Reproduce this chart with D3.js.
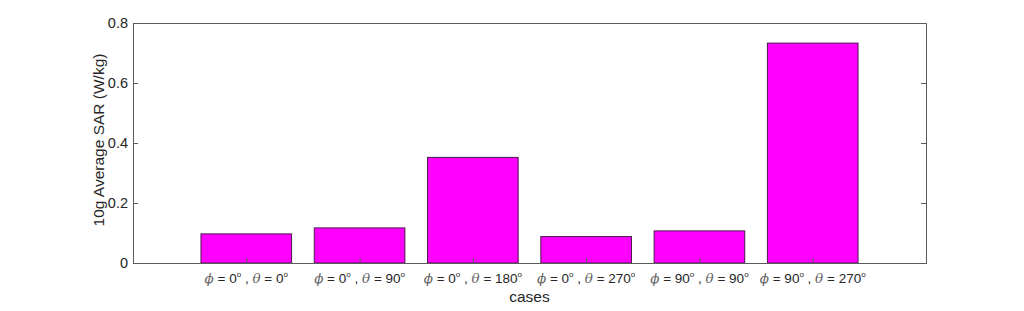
<!DOCTYPE html>
<html>
<head>
<meta charset="UTF-8">
<script src="https://d3js.org/d3.v7.min.js"></script>
<style>
	body { margin: 0; background: #fff; }
	text { font-family: "Liberation Sans", Arial, sans-serif; fill: #262626; }
</style>
</head>
<body>
<svg id="chart" width="1024" height="311"></svg>
<script>
// data
var phiVals = ["0", "0", "0", "0", "90", "90"];
var thetaVals = ["0", "90", "180", "270", "90", "270"];
var sarValues = [0.097, 0.117, 0.352, 0.088, 0.107, 0.733];
var yTicks = [0, 0.2, 0.4, 0.6, 0.8];

var margin = {top: 23, left: 133, right: 98, bottom: 48},
	width = 1024 - margin.left - margin.right,
	height = 311 - margin.top - margin.bottom;

var svg = d3.select("#chart");
var g = svg.append("g").attr("transform", "translate(" + margin.left + "," + margin.top + ")");

var idx = d3.range(sarValues.length);
// matlab style: bars at 1..n, axis from 0 to n+1
var x = d3.scaleLinear().domain([0, sarValues.length + 1]).range([0, width]);
var y = d3.scaleLinear().domain([0, 0.8]).range([height, 0]);
var barW = (x(1) - x(0)) * 0.8;

//==== bars
g.selectAll("rect.bar")
	.data(idx)
	.enter().append("rect")
	.attr("class", "bar")
	.attr("x", function(i) { return x(i + 1) - barW / 2; })
	.attr("y", function(i) { return y(sarValues[i]); })
	.attr("width", barW)
	.attr("height", function(i) { return y(0) - y(sarValues[i]); })
	.attr("fill", "#ff00ff")
	.attr("stroke", "#4a1a4a")
	.attr("stroke-width", 1);

//==== axes
var yAxis = d3.axisLeft(y).tickValues(yTicks).tickSize(-5).tickPadding(5)
	.tickFormat(function(d) { return d === 0 ? "0" : d3.format(".1f")(d); });
var yAxisR = d3.axisRight(y).tickValues(yTicks).tickSize(-5).tickFormat("");
var xAxis = d3.axisBottom(x).tickValues(idx.map(function(i) { return i + 1; })).tickSize(-5).tickFormat("");
var xAxisT = d3.axisTop(x).tickValues([]).tickSize(0);

g.append("g").attr("class", "axis").call(yAxis);
g.append("g").attr("class", "axis").attr("transform", "translate(" + width + ",0)").call(yAxisR);
g.append("g").attr("class", "axis").attr("transform", "translate(0," + height + ")").call(xAxis);
g.append("g").attr("class", "axis").call(xAxisT);

g.selectAll(".axis path, .axis line").attr("stroke", "#5a5a5a");
g.selectAll(".axis .domain").attr("stroke", "#5a5a5a");
g.selectAll(".axis text").style("font-size", "14.5px").attr("fill", "#262626")
	.style("font-family", "'Liberation Sans', Arial, sans-serif");

//==== x tick labels with greek symbols
var labels = g.selectAll("text.xlab")
	.data(idx)
	.enter().append("text")
	.attr("class", "xlab")
	.attr("x", function(i) { return x(i + 1); })
	.attr("y", height + 20)
	.attr("text-anchor", "middle")
	.style("font-size", "13.5px");

labels.each(function(i) {
	var t = d3.select(this);
	t.append("tspan").text("\u03D5").style("font-style", "italic").style("font-family", "'DejaVu Serif', serif").attr("fill", "#666");
	t.append("tspan").text(" = " + phiVals[i]);
	t.append("tspan").text("o").attr("dy", -6).style("font-size", "8px");
	t.append("tspan").text(" , ").attr("dy", 6);
	t.append("tspan").text("\u03B8").style("font-style", "italic").style("font-family", "'DejaVu Serif', serif").attr("fill", "#666");
	t.append("tspan").text(" = " + thetaVals[i]);
	t.append("tspan").text("o").attr("dy", -6).style("font-size", "8px");
});

//==== axis titles
g.append("text")
	.attr("x", width / 2)
	.attr("y", height + 39)
	.attr("text-anchor", "middle")
	.style("font-size", "15.5px")
	.text("cases");

g.append("text")
	.attr("transform", "translate(-29," + (height / 2 - 3) + ") rotate(-90)")
	.attr("text-anchor", "middle")
	.style("font-size", "15.5px")
	.text("10g Average SAR (W/kg)");
</script>
</body>
</html>
